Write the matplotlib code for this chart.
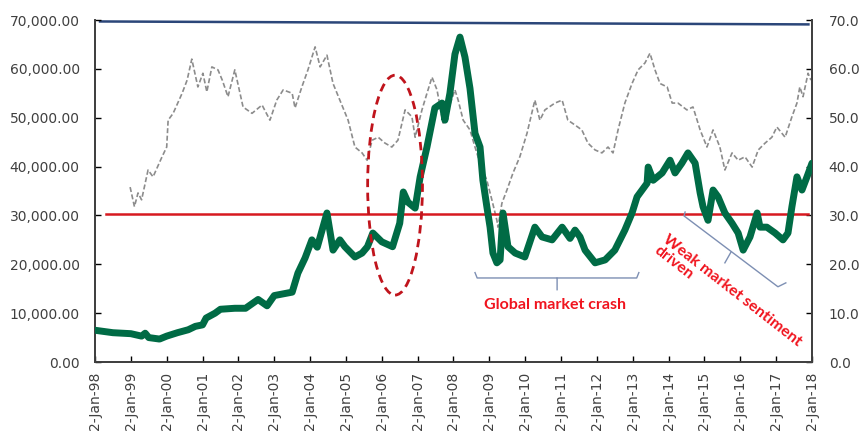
import numpy as np
import matplotlib
matplotlib.use("Agg")
import matplotlib.pyplot as plt
from matplotlib.patches import Ellipse
from matplotlib.ticker import FuncFormatter

# Nivel del índice (eje izquierdo), años decimales y valores
idx_years = [1998.00, 1998.5, 1999.0, 1999.3, 1999.4, 1999.5, 1999.8, 2000.0, 2000.3, 2000.6,
             2000.8, 2001.0, 2001.1, 2001.35, 2001.5, 2001.9, 2002.2, 2002.55, 2002.8, 2003.0,
             2003.5, 2003.66, 2003.86, 2004.05, 2004.2, 2004.47, 2004.64, 2004.83, 2004.97, 2005.25,
             2005.45, 2005.6, 2005.75, 2006.0, 2006.3, 2006.5, 2006.6, 2006.73, 2006.93, 2007.07,
             2007.26, 2007.48, 2007.68, 2007.76, 2007.9, 2008.04, 2008.18, 2008.32, 2008.46, 2008.6,
             2008.74, 2008.82, 2008.93, 2009.02, 2009.1, 2009.21, 2009.3, 2009.38, 2009.52, 2009.72,
             2009.99, 2010.27, 2010.47, 2010.75, 2011.03, 2011.25, 2011.39, 2011.53, 2011.67, 2011.95,
             2012.23, 2012.5, 2012.78, 2012.98, 2013.12, 2013.4, 2013.43, 2013.57, 2013.82, 2014.04,
             2014.18, 2014.37, 2014.54, 2014.74, 2014.88, 2014.96, 2015.1, 2015.24, 2015.38, 2015.57,
             2015.77, 2015.94, 2016.08, 2016.27, 2016.47, 2016.55, 2016.74, 2016.97, 2017.19, 2017.33,
             2017.44, 2017.58, 2017.72, 2017.86, 2018.0]
idx_values = [6500, 6000, 5800, 5300, 5900, 5000, 4700, 5300, 6000, 6600,
              7300, 7600, 9000, 10000, 10800, 11000, 11000, 12800, 11500, 13600,
              14300, 18200, 21300, 25000, 23500, 30500, 22900, 25000, 23600, 21500,
              22300, 23600, 26400, 24600, 23600, 28400, 34800, 32700, 31500, 37900,
              44000, 52000, 53000, 49500, 55000, 63000, 66500, 62400, 56000, 46800,
              44000, 37200, 31800, 27600, 22300, 20300, 20900, 30500, 23600, 22300,
              21500, 27600, 25600, 25000, 27600, 25300, 27000, 25600, 22900, 20300,
              20900, 22900, 27000, 30500, 33800, 36600, 39900, 37200, 38700, 41300,
              38700, 40700, 42800, 40700, 34600, 31800, 29000, 35200, 33800, 30500,
              28400, 26400, 22900, 25600, 30500, 27600, 27600, 26400, 25000, 26400,
              31800, 37900, 35200, 37900, 40700]

# PER (eje derecho)
pe_years = [1998.98, 1999.1, 1999.2, 1999.3, 1999.48, 1999.62, 1999.87, 2000.0, 2000.04, 2000.18,
            2000.43, 2000.57, 2000.7, 2000.87, 2001.01, 2001.12, 2001.26, 2001.43, 2001.55, 2001.71,
            2001.9, 2002.13, 2002.38, 2002.66, 2002.88, 2003.07, 2003.25, 2003.5, 2003.58, 2003.77,
            2003.94, 2004.14, 2004.28, 2004.47, 2004.64, 2004.83, 2005.06, 2005.25, 2005.45, 2005.59,
            2005.73, 2005.9, 2006.09, 2006.28, 2006.45, 2006.65, 2006.84, 2006.93, 2007.12, 2007.26,
            2007.4, 2007.54, 2007.71, 2007.85, 2008.04, 2008.13, 2008.27, 2008.46, 2008.6, 2008.74,
            2008.93, 2009.07, 2009.21, 2009.24, 2009.35, 2009.49, 2009.66, 2009.85, 2010.05, 2010.27,
            2010.41, 2010.55, 2010.83, 2011.03, 2011.19, 2011.39, 2011.58, 2011.75, 2011.95, 2012.14,
            2012.31, 2012.45, 2012.59, 2012.78, 2012.98, 2013.15, 2013.34, 2013.48, 2013.62, 2013.76,
            2013.96, 2014.1, 2014.26, 2014.51, 2014.68, 2014.88, 2015.07, 2015.24, 2015.43, 2015.57,
            2015.77, 2015.94, 2016.13, 2016.33, 2016.5, 2016.69, 2016.88, 2017.02, 2017.25, 2017.44,
            2017.58, 2017.66, 2017.75, 2017.89, 2017.97]
pe_values = [35.8, 31.8, 34.6, 33.2, 39.3, 37.9, 42.0, 44.0, 49.5, 50.9,
             55.0, 57.7, 62.0, 56.3, 59.1, 55.3, 60.4, 59.8, 57.7, 54.3,
             59.8, 52.2, 50.9, 52.6, 49.5, 53.6, 55.7, 55.0, 52.0, 56.3,
             59.8, 64.5, 60.4, 62.8, 57.0, 53.6, 49.5, 44.0, 42.8, 41.3,
             45.4, 46.0, 44.8, 44.0, 45.4, 51.6, 50.2, 46.0, 51.6, 55.0,
             58.3, 55.7, 48.9, 51.6, 55.7, 53.6, 49.5, 47.5, 44.0, 40.7,
             37.2, 33.2, 29.0, 27.6, 32.5, 35.2, 38.7, 42.0, 46.8, 53.6,
             49.5, 51.6, 53.0, 53.6, 49.5, 48.5, 47.5, 44.8, 43.4, 42.8,
             44.0, 42.8, 47.5, 53.0, 57.0, 59.8, 61.2, 63.2, 59.8, 57.0,
             56.3, 53.0, 53.0, 51.6, 52.2, 47.5, 44.0, 47.5, 44.0, 39.3,
             42.8, 41.3, 42.0, 39.9, 43.4, 44.8, 46.0, 48.1, 46.0, 50.2,
             53.0, 56.3, 54.3, 59.1, 57.7]

# Líneas de referencia (eje derecho)
upper_years = [1998.14, 2017.9]
upper_values = [69.7, 69.1]
mean_years = [1998.3, 2017.9]
mean_values = [30.3, 30.3]

tick_years = list(range(1998, 2019))
tick_labels = ["2-Jan-%02d" % (y % 100) for y in tick_years]

fig = plt.figure(figsize=(8.62, 4.32), dpi=100)
ax = fig.add_axes([0.1102, 0.162, 0.8318, 0.7917])
ax2 = ax.twinx()

ax.plot(idx_years, idx_values, color="#006B45", lw=5, solid_joinstyle="round",
        solid_capstyle="round", zorder=3)
ax2.plot(pe_years, pe_values, color="#8C8C8C", lw=1.2, dashes=(3, 1.5), zorder=2)
ax2.plot(upper_years, upper_values, color="#2B4679", lw=1.8, zorder=2)
ax2.plot(mean_years, mean_values, color="#D71920", lw=1.8, zorder=2)

ax.set_xlim(1998, 2018)
ax.set_ylim(0, 70000)
ax2.set_ylim(0, 70)
ax.set_zorder(ax2.get_zorder() + 1)
ax.patch.set_visible(False)

ax.set_xticks(tick_years)
ax.set_xticklabels(tick_labels, rotation=90, fontsize=10, color="#404040")
ax.set_yticks(np.arange(0, 70001, 10000))
ax.yaxis.set_major_formatter(FuncFormatter(lambda v, p: "{:,.2f}".format(v)))
ax2.set_yticks(np.arange(0, 71, 10))
ax2.yaxis.set_major_formatter(FuncFormatter(lambda v, p: "{:.1f}".format(v)))

ax.tick_params(axis="y", direction="in", length=4, width=1, pad=11, labelsize=10, labelcolor="#404040")
ax.tick_params(axis="x", direction="in", length=4, width=1, pad=7)
ax2.tick_params(axis="y", direction="in", length=4, width=1, pad=12, labelsize=10, labelcolor="#404040")

for a in (ax, ax2):
    a.spines["top"].set_visible(False)
    for s in ("left", "right", "bottom"):
        a.spines[s].set_color("#404040")
        a.spines[s].set_linewidth(1.3)

# Elipse punteada alrededor de 2006
ax.add_patch(Ellipse((2006.37, 36200), 1.53, 45000, fill=False, ec="#C0141C",
                     lw=2, ls=(0, (3, 2)), zorder=4))

# Llave "Global market crash"
brace_c = "#7D8FB3"
ax.plot([2008.6, 2008.66, 2010.84, 2010.89, 2010.89], [18300, 17200, 17200, 17200, 14800],
        color=brace_c, lw=1, zorder=4)
ax.plot([2010.89, 2013.11, 2013.17], [17200, 17200, 18300], color=brace_c, lw=1, zorder=4)
ax.text(2010.83, 11700, "Global market crash", color="#F0141E", fontsize=11.5,
        fontweight="bold", family=["Lato", "DejaVu Sans"], ha="center", va="center")

# Llave inclinada "Weak market sentiment driven"
ax.plot([2014.46, 2014.43, 2017.05, 2017.27], [30700, 29900, 15400, 16200],
        color=brace_c, lw=1, zorder=4)
ax.plot([2015.74, 2015.57], [22500, 20300], color=brace_c, lw=1, zorder=4)
ax.text(2014.0, 26600, "Weak market sentiment\ndriven", color="#F0141E", fontsize=11.5,
        fontweight="bold", family=["Lato", "DejaVu Sans"], rotation=-38,
        rotation_mode="anchor", ha="left", va="top", linespacing=1.0)

fig.savefig("out.png", dpi=100)
